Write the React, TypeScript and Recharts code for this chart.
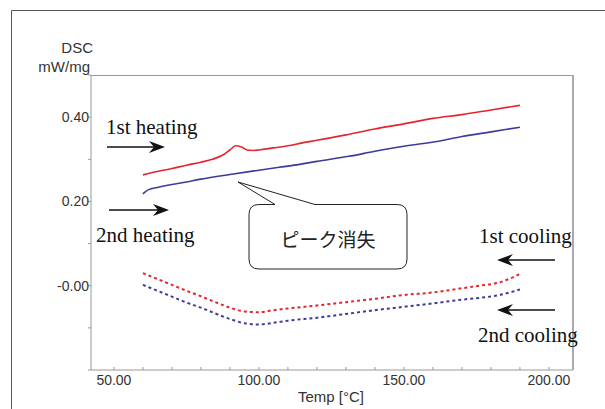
import React from 'react';
import { LineChart, Line, XAxis, YAxis } from 'recharts';

// 1st heating (red, solid)
const heat1T = [60, 65, 70, 75, 80, 84, 88, 90, 92, 94, 96, 98, 100, 105, 110, 115, 120, 130, 140, 150, 160, 170, 180, 190];
const heat1V = [0.263, 0.271, 0.278, 0.286, 0.293, 0.3, 0.312, 0.322, 0.332, 0.329, 0.322, 0.321, 0.322, 0.327, 0.332, 0.339, 0.345, 0.358, 0.372, 0.384, 0.397, 0.406, 0.417, 0.428];

// 2nd heating (blue, solid)
const heat2T = [60, 61, 62, 65, 70, 75, 80, 90, 100, 107, 114, 120, 131, 140, 150, 162, 170, 180, 190];
const heat2V = [0.218, 0.224, 0.228, 0.233, 0.24, 0.246, 0.253, 0.264, 0.274, 0.281, 0.288, 0.295, 0.307, 0.319, 0.331, 0.343, 0.354, 0.365, 0.376];

// 1st / 2nd cooling (dotted)
const coolT = [60, 65, 70, 75, 80, 85, 90, 95, 100, 105, 110, 120, 130, 140, 150, 160, 170, 176, 183, 190];
const cool1V = [0.03, 0.016, 0.002, -0.012, -0.025, -0.039, -0.052, -0.061, -0.063, -0.058, -0.054, -0.047, -0.039, -0.031, -0.022, -0.016, -0.006, 0.0, 0.008, 0.028];
const cool2V = [0.002, -0.012, -0.026, -0.04, -0.052, -0.066, -0.079, -0.089, -0.092, -0.088, -0.083, -0.076, -0.067, -0.058, -0.05, -0.042, -0.033, -0.029, -0.022, -0.009];

const xTicks = [50, 60, 70, 80, 90, 100, 110, 120, 130, 140, 150, 160, 170, 180, 190, 200];
const xLabels = [50, 100, 150, 200];
const yTicks = [-0.2, -0.15, -0.1, -0.05, 0, 0.05, 0.1, 0.15, 0.2, 0.25, 0.3, 0.35, 0.4, 0.45, 0.5];
const yLabels = [0, 0.2, 0.4];

const toRows = (t: number[], v: number[]) => t.map((x, i) => ({ t: x, v: v[i] }));

const RED = '#e5252e';
const BLUE = '#3c3c9c';
const sans = '"Liberation Sans", Arial, sans-serif';
const serif = '"Liberation Serif", "Times New Roman", serif';

const XTick = (props: any) => {
  const { x, y, payload } = props;
  const show = xLabels.includes(payload.value);
  return (
    <g>
      <line x1={x} x2={x} y1={y} y2={y - 3} stroke="#999" />
      {show && (
        <text x={x} y={y + 15} textAnchor="middle" fontSize={14} fontFamily={sans} fill="#333">
          {payload.value.toFixed(2)}
        </text>
      )}
    </g>
  );
};

const YTick = (props: any) => {
  const { x, y, payload } = props;
  const val = Math.round(payload.value * 100) / 100;
  const show = yLabels.includes(val);
  return (
    <g>
      <line x1={x} x2={x - 3} y1={y} y2={y} stroke="#999" />
      {show && (
        <text x={x - 2} y={y + 5} textAnchor="end" fontSize={14} fontFamily={sans} fill="#333">
          {val === 0 ? '-0.00' : val.toFixed(2)}
        </text>
      )}
    </g>
  );
};

const Arrow = ({ x1, x2, y }: { x1: number; x2: number; y: number }) => {
  const dir = x2 > x1 ? 1 : -1;
  return (
    <g>
      <line x1={x1} x2={x2 - dir * 8} y1={y} y2={y} stroke="#111" strokeWidth={1.3} />
      <path d={`M${x2},${y} L${x2 - dir * 16},${y - 6} L${x2 - dir * 11},${y} L${x2 - dir * 16},${y + 6} Z`} fill="#111" />
    </g>
  );
};

export default function App() {
  return (
    <div style={{ position: 'absolute', left: 0, top: 0, width: 605, height: 409, background: '#fff' }}>
      <LineChart width={605} height={409} margin={{ top: 75, right: 32, bottom: 0, left: 0 }}>
        <XAxis
          type="number"
          dataKey="t"
          domain={[42.1, 208.3]}
          ticks={xTicks}
          tick={<XTick />}
          tickLine={false}
          tickSize={0}
          tickMargin={0}
          height={39}
          axisLine={{ stroke: '#999' }}
          allowDataOverflow
        />
        <YAxis
          type="number"
          dataKey="v"
          domain={[-0.2, 0.5]}
          ticks={yTicks}
          tick={<YTick />}
          tickLine={false}
          tickSize={0}
          tickMargin={0}
          width={91}
          axisLine={{ stroke: '#999' }}
          allowDataOverflow
        />
        <Line data={toRows(heat1T, heat1V)} dataKey="v" stroke={RED} strokeWidth={1.6} dot={false} type="monotone" isAnimationActive={false} />
        <Line data={toRows(heat2T, heat2V)} dataKey="v" stroke={BLUE} strokeWidth={1.6} dot={false} type="monotone" isAnimationActive={false} />
        <Line data={toRows(coolT, cool1V)} dataKey="v" stroke={RED} strokeWidth={2} strokeDasharray="3 3" dot={false} type="monotone" isAnimationActive={false} />
        <Line data={toRows(coolT, cool2V)} dataKey="v" stroke={BLUE} strokeWidth={2} strokeDasharray="3 3" dot={false} type="monotone" isAnimationActive={false} />
      </LineChart>
      <svg width={605} height={409} style={{ position: 'absolute', left: 0, top: 0, pointerEvents: 'none' }}>
        {/* outer frame */}
        <line x1={11.5} x2={605} y1={10.5} y2={10.5} stroke="#555" />
        <line x1={11.5} x2={11.5} y1={10.5} y2={409} stroke="#555" />
        {/* plot top / right border */}
        <line x1={91} x2={573} y1={75.5} y2={75.5} stroke="#999" />
        <line x1={573} x2={573} y1={75} y2={370} stroke="#aaa" strokeWidth={2} />

        <text x={93} y={53} textAnchor="end" fontSize={15} fontFamily={sans} fill="#333">DSC</text>
        <text x={90} y={72} textAnchor="end" fontSize={15} fontFamily={sans} fill="#333">mW/mg</text>
        <text x={331} y={402} textAnchor="middle" fontSize={15} fontFamily={sans} fill="#333">Temp [°C]</text>

        <text x={106} y={134} fontSize={21} fontFamily={serif} fill="#111">1st heating</text>
        <Arrow x1={107} x2={165} y={147} />
        <Arrow x1={109} x2={169} y={210} />
        <text x={96} y={242} fontSize={21} fontFamily={serif} fill="#111">2nd heating</text>

        <text x={479} y={243} fontSize={21} fontFamily={serif} fill="#111">1st cooling</text>
        <Arrow x1={555} x2={497} y={260} />
        <Arrow x1={555} x2={497} y={310} />
        <text x={478} y={342} fontSize={21} fontFamily={serif} fill="#111">2nd cooling</text>

        {/* callout */}
        <path
          d="M275,204.5 L238,182 L315,204.5 L397,204.5 Q407,204.5 407,214.5 L407,259 Q407,269 397,269 L259,269 Q249,269 249,259 L249,214.5 Q249,204.5 259,204.5 Z"
          fill="#fff"
          stroke="#222"
          strokeWidth={1}
        />
        <text x={328} y={247} textAnchor="middle" fontSize={19} fontFamily='"Noto Sans CJK JP", sans-serif' fill="#222">ピーク消失</text>
      </svg>
    </div>
  );
}
